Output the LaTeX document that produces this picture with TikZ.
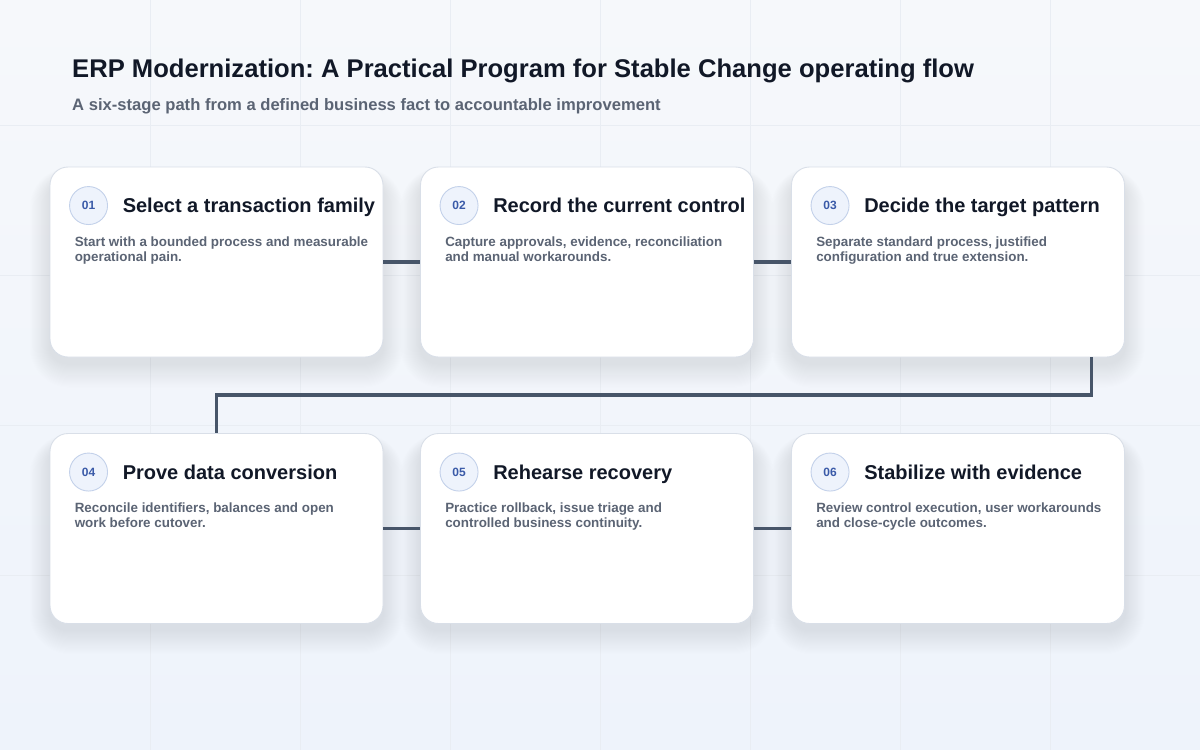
\documentclass[tikz,border=0pt]{standalone}
\usepackage{fontspec}
\setmainfont{Liberation Sans}
\usetikzlibrary{positioning}
\frenchspacing

\definecolor{bgtop}{HTML}{F6F8FB}
\definecolor{bgbot}{HTML}{EEF3FB}
\definecolor{gridline}{HTML}{E9EDF3}
\definecolor{ink}{HTML}{111827}
\definecolor{muted}{HTML}{5B6474}
\definecolor{cardline}{HTML}{D9DFE8}
\definecolor{linkcol}{HTML}{475569}
\definecolor{badgefill}{HTML}{EEF3FC}
\definecolor{badgeline}{HTML}{C3D1EA}
\definecolor{badgetext}{HTML}{3A5AA8}
\definecolor{shadowcol}{HTML}{3A4A68}

\pgfdeclarelayer{back}
\pgfdeclarelayer{shade}
\pgfsetlayers{back,shade,main}

\tikzset{
	card/.style={draw=cardline, line width=0.9pt, fill=white, rounded corners=18pt,
		minimum width=333pt, minimum height=190pt, inner sep=0pt},
	badge/.style={circle, draw=badgeline, line width=0.9pt, fill=badgefill, minimum size=38pt,
		inner sep=0pt, text=badgetext, font=\bfseries\fontsize{12}{14}\selectfont},
	headline/.style={anchor=base west, inner sep=0pt, text=ink, font=\bfseries\fontsize{20}{24}\selectfont},
	blurb/.style={anchor=north west, inner sep=0pt, align=left, text=muted,
		font=\bfseries\fontsize{13.4}{15}\selectfont},
	link/.style={draw=linkcol, line width=3.2pt}
}

\begin{document}
\begin{tikzpicture}[x=1pt, y=-1pt]
	\useasboundingbox (0,0) rectangle (1200,750);
	\begin{pgfonlayer}{back}
		\shade[top color=bgtop, bottom color=bgbot] (0,0) rectangle (1200,750);
		\foreach \gx in {150,300,...,1050}
			\draw[gridline, line width=0.6pt] (\gx,0) -- (\gx,750);
		\foreach \gy in {125,275,425,575}
			\draw[gridline, line width=0.6pt] (0,\gy) -- (1200,\gy);
	\end{pgfonlayer}

	\node[anchor=base west, inner sep=0pt, text=ink, font=\bfseries\fontsize{25.6}{30}\selectfont] (title) at (72,77)
		{ERP Modernization: A Practical Program for Stable Change operating flow};
	\node[anchor=base west, inner sep=0pt, text=muted, font=\bfseries\fontsize{16.6}{20}\selectfont] (subtitle) at (72,110)
		{A six-stage path from a defined business fact to accountable improvement};

	\node[card] (s1) at (216.5,262) {};
	\node[card] (s2) at (587,262) {};
	\node[card] (s3) at (958,262) {};
	\node[card] (s4) at (216.5,528.5) {};
	\node[card] (s5) at (587,528.5) {};
	\node[card] (s6) at (958,528.5) {};

	\foreach \s/\n/\h/\d in {
		s1/01/Select a transaction family/{Start with a bounded process and measurable\\operational pain.},
		s2/02/Record the current control/{Capture approvals, evidence, reconciliation\\and manual workarounds.},
		s3/03/Decide the target pattern/{Separate standard process, justified\\configuration and true extension.},
		s4/04/Prove data conversion/{Reconcile identifiers, balances and open\\work before cutover.},
		s5/05/Rehearse recovery/{Practice rollback, issue triage and\\controlled business continuity.},
		s6/06/Stabilize with evidence/{Review control execution, user workarounds\\and close-cycle outcomes.}}
	{
		\begin{pgfonlayer}{shade}
			\foreach \k in {1,...,22}
				\fill[shadowcol, fill opacity=0.0055, rounded corners=18pt+\k pt]
					([xshift=-0.9*\k pt, yshift=-1.1*\k pt-6pt]\s.south west) rectangle ([xshift=0.9*\k pt, yshift=0.5*\k pt-12pt]\s.north east);
		\end{pgfonlayer}
		\node[badge] (\s-num) at ([xshift=39pt, yshift=-39pt]\s.north west) {\n};
		\node[headline] (\s-head) at ([xshift=73pt, yshift=-46pt]\s.north west) {\h};
		\node[blurb] (\s-text) at ([xshift=25pt, yshift=-70pt]\s.north west) {\d};
	}

	\coordinate (turn) at (600,395);
	\draw[link] (s1.east) -- (s2.west);
	\draw[link] (s2.east) -- (s3.west);
	\draw[link] ([xshift=-33.5pt]s3.south east) |- (turn) -| (s4.north);
	\draw[link] (s4.east) -- (s5.west);
	\draw[link] (s5.east) -- (s6.west);
\end{tikzpicture}
\end{document}
